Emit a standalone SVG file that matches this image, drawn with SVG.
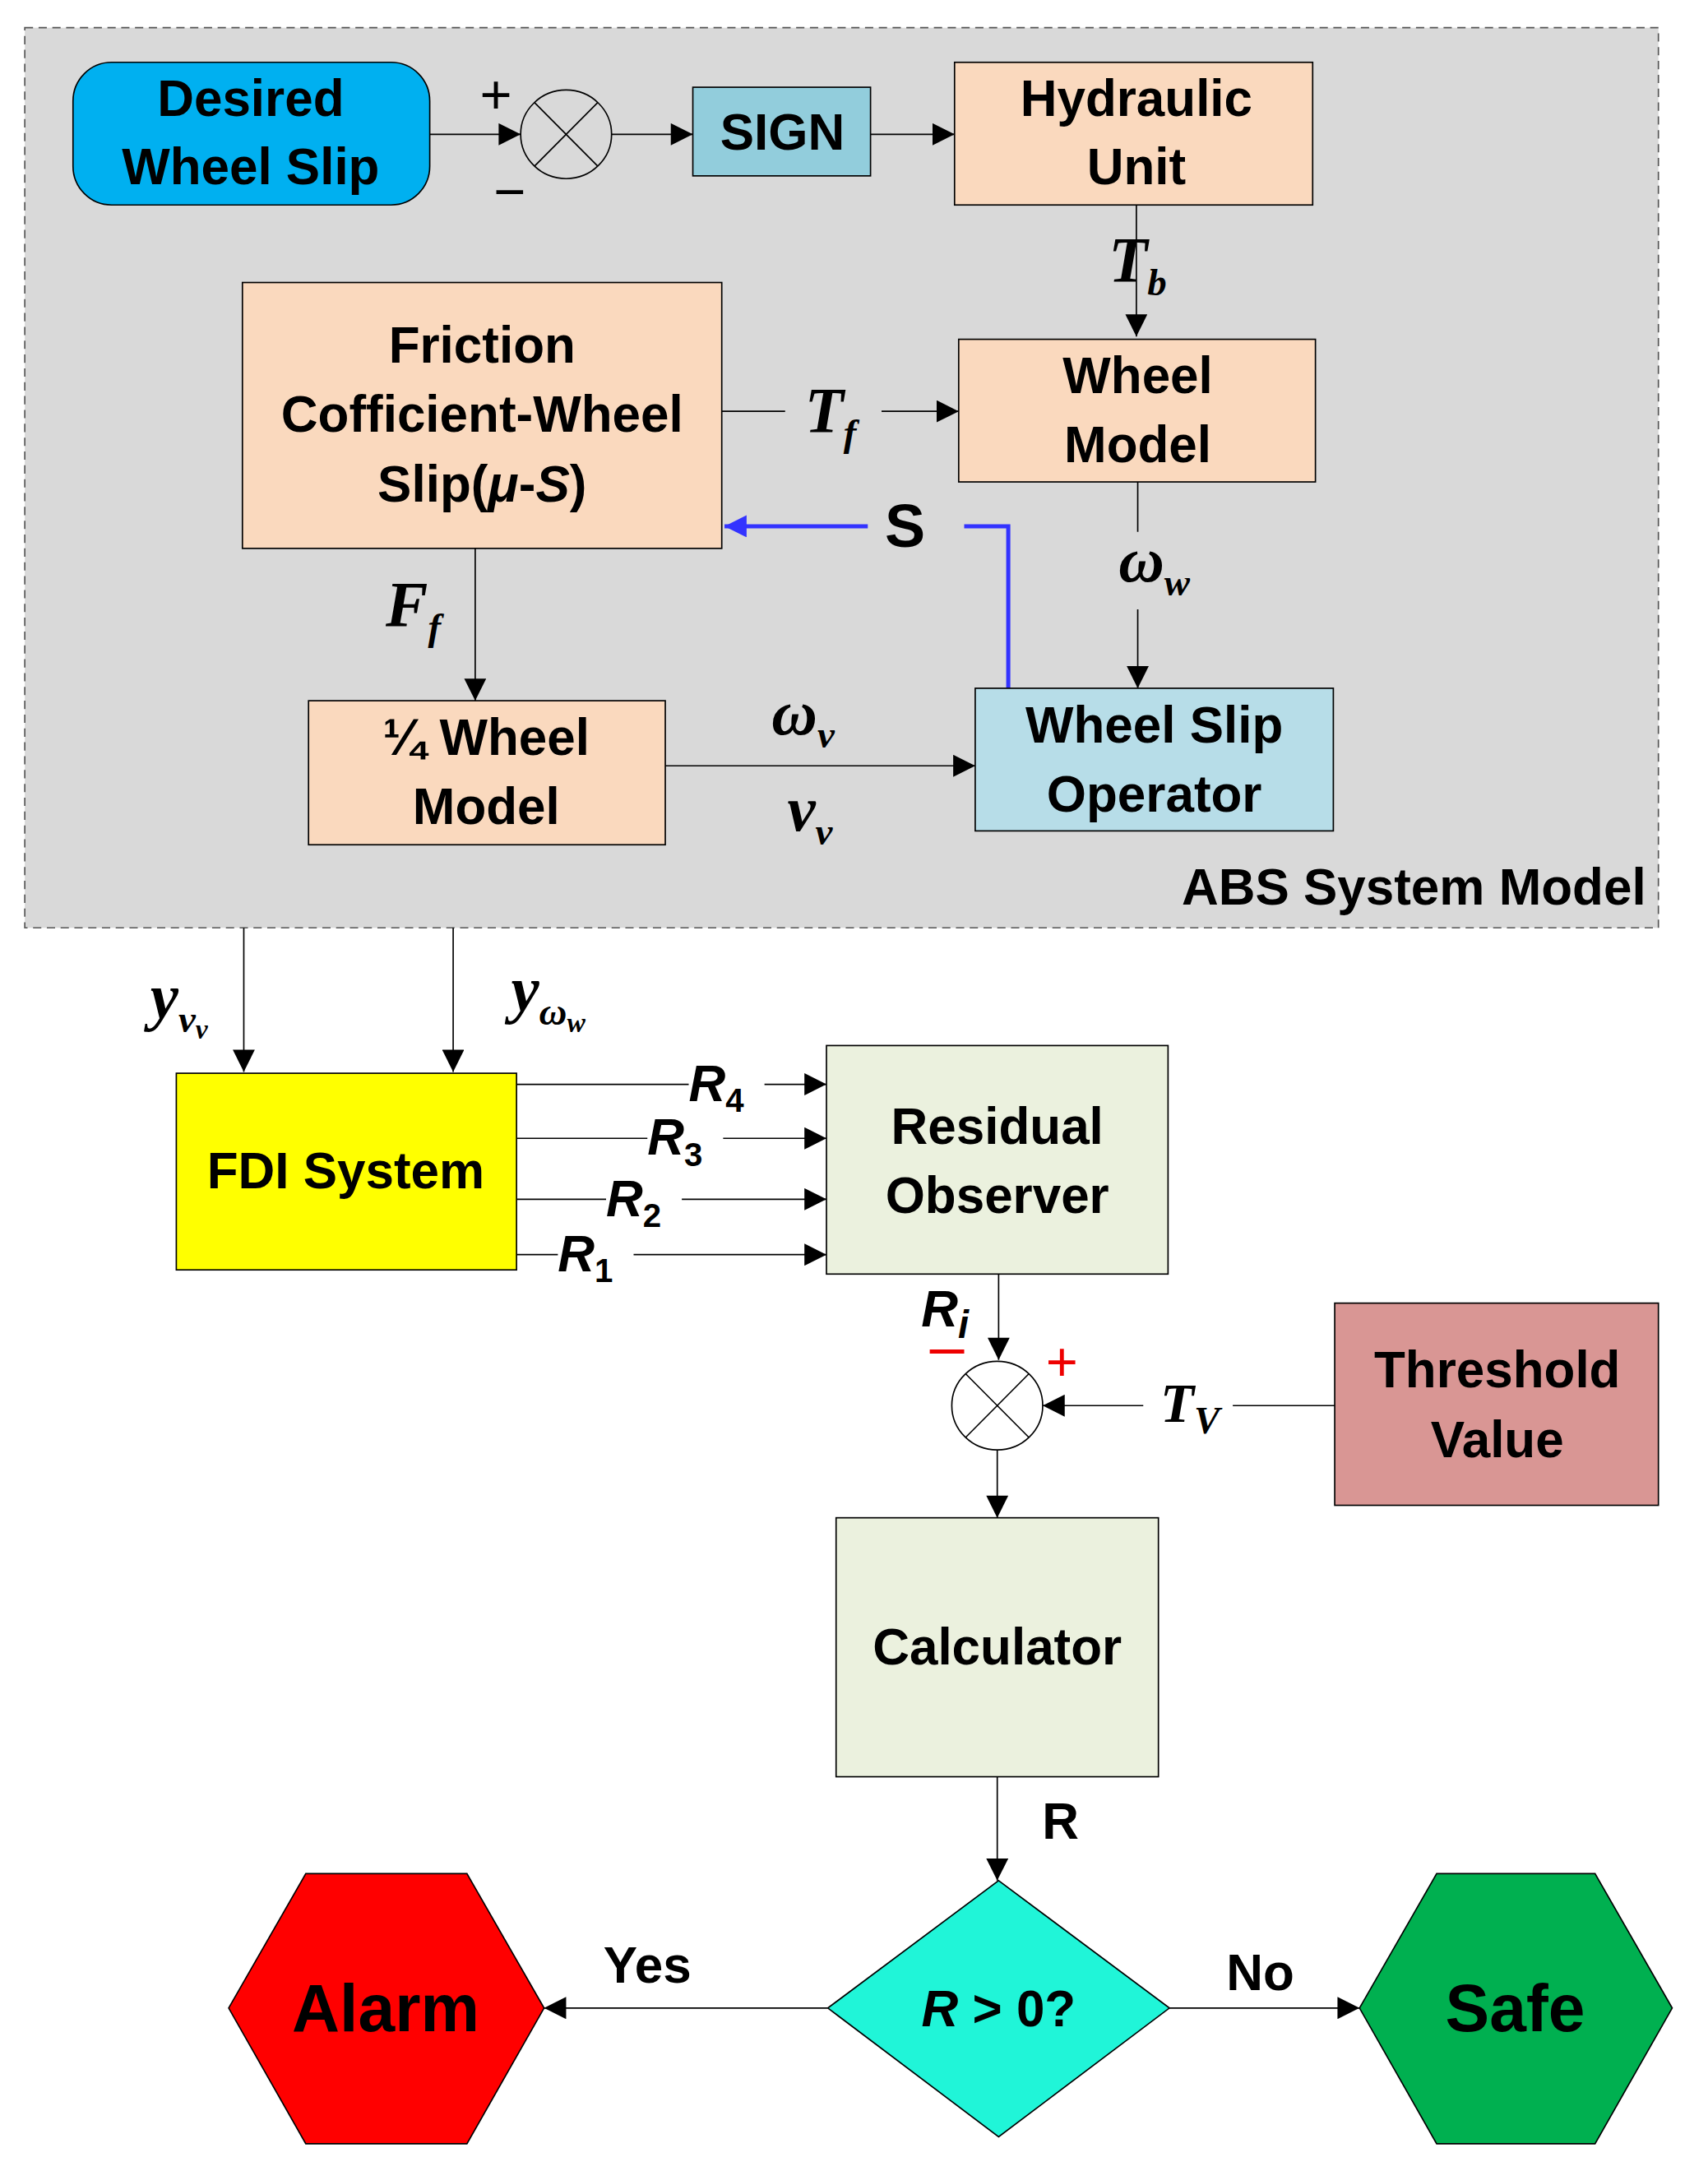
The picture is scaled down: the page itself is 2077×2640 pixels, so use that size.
<svg xmlns="http://www.w3.org/2000/svg" width="2077" height="2640" viewBox="0 0 2077 2640">
<style>
.b{stroke:#000;stroke-width:1}
.t{font-family:"Liberation Sans",Arial,sans-serif;font-weight:bold;font-size:37px;text-anchor:middle;fill:#000}
.m{font-family:"Liberation Serif","Times New Roman",serif;font-weight:bold;font-style:italic;font-size:46px;text-anchor:middle;fill:#000}
.s{font-size:28px}
.l{stroke:#000;stroke-width:1;fill:none}
</style>
<defs>
<marker id="a" viewBox="0 0 10 10" refX="10" refY="5" markerWidth="22" markerHeight="16" markerUnits="userSpaceOnUse" orient="auto"><path d="M0,0L10,5L0,10z" fill="#000"/></marker>
<marker id="ab" viewBox="0 0 10 10" refX="10" refY="5" markerWidth="22" markerHeight="16" markerUnits="userSpaceOnUse" orient="auto"><path d="M0,0L10,5L0,10z" fill="#3333ff"/></marker>
</defs>
<rect width="2077" height="2640" fill="#fff"/>
<g transform="scale(1.675,1.684)">
<rect x="18" y="20" width="1186" height="650" fill="#d9d9d9" stroke="#555" stroke-dasharray="6,4"/>
<text class="t" x="1195" y="653" text-anchor="end" style="text-anchor:end">ABS System Model</text>
<g id="connectors">
<path class="l" d="M312,97H378" marker-end="url(#a)"/>
<path class="l" d="M444,97H503" marker-end="url(#a)"/>
<path class="l" d="M632,97H693" marker-end="url(#a)"/>
<path class="l" d="M825,148V243" marker-end="url(#a)"/>
<path class="l" d="M524,297H570M640,297H696" marker-end="url(#a)"/>
<path d="M732,497V380H700M630,380H526" fill="none" stroke="#3333ff" stroke-width="3" marker-end="url(#ab)"/>
<path class="l" d="M826,348V384M826,440V497" marker-end="url(#a)"/>
<path class="l" d="M345,396V506" marker-end="url(#a)"/>
<path class="l" d="M483,553H708" marker-end="url(#a)"/>
<path class="l" d="M177,670V774" marker-end="url(#a)"/>
<path class="l" d="M329,670V774" marker-end="url(#a)"/>
<path class="l" d="M375,783H500M555,783H600" marker-end="url(#a)"/>
<path class="l" d="M375,822H470M525,822H600" marker-end="url(#a)"/>
<path class="l" d="M375,866H440M495,866H600" marker-end="url(#a)"/>
<path class="l" d="M375,906H405M460,906H600" marker-end="url(#a)"/>
<path class="l" d="M725,920V982" marker-end="url(#a)"/>
<path class="l" d="M969,1015H895M830,1015H757" marker-end="url(#a)"/>
<path class="l" d="M724,1047V1096" marker-end="url(#a)"/>
<path class="l" d="M724,1283V1358" marker-end="url(#a)"/>
<path class="l" d="M601,1450H395" marker-end="url(#a)"/>
<path class="l" d="M849,1450H987" marker-end="url(#a)"/>
</g>
<g id="labels">
<text x="360" y="82" style="font-family:'Liberation Sans',sans-serif;font-size:40px;text-anchor:middle">+</text>
<text x="370" y="152" style="font-family:'Liberation Sans',sans-serif;font-size:40px;text-anchor:middle">−</text>
<text class="m" x="826" y="203">T<tspan class="s" dy="10">b</tspan></text>
<text class="m" x="603" y="312">T<tspan class="s" dy="10">f</tspan></text>
<text class="t" x="657" y="395" style="font-size:44px">S</text>
<text class="m" x="838" y="420">ω<tspan class="s" dy="10">w</tspan></text>
<text class="m" x="300" y="452">F<tspan class="s" dy="10">f</tspan></text>
<text class="m" x="583" y="530">ω<tspan class="s" dy="10">v</tspan></text>
<text class="m" x="588" y="600">v<tspan class="s" dy="10">v</tspan></text>
<text class="m" x="130" y="735">y<tspan class="s" dy="10">v</tspan><tspan style="font-size:20px" dy="5">v</tspan></text>
<text class="m" x="398" y="730">y<tspan class="s" dy="10">ω</tspan><tspan style="font-size:20px" dy="5">w</tspan></text>
<text class="t" x="520" y="795" style="font-style:italic">R<tspan style="font-size:24px;font-style:normal" dy="8">4</tspan></text>
<text class="t" x="490" y="834" style="font-style:italic">R<tspan style="font-size:24px;font-style:normal" dy="8">3</tspan></text>
<text class="t" x="460" y="878" style="font-style:italic">R<tspan style="font-size:24px;font-style:normal" dy="8">2</tspan></text>
<text class="t" x="425" y="918" style="font-style:italic">R<tspan style="font-size:24px;font-style:normal" dy="8">1</tspan></text>
<text class="t" x="686" y="958" style="font-style:italic">R<tspan style="font-size:28px" dy="8">i</tspan></text>
<path d="M675,976H700" stroke="#e00" stroke-width="3"/>
<text x="771" y="997" style="font-family:'Liberation Sans',sans-serif;font-size:40px;text-anchor:middle;fill:#e00">+</text>
<text class="m" x="864" y="1027" style="font-size:40px">T<tspan class="s" dy="8">V</tspan></text>
<text class="t" x="770" y="1328">R</text>
<text class="t" x="470" y="1432">Yes</text>
<text class="t" x="915" y="1437">No</text>
</g>
<g id="desired"><rect x="53" y="45" width="259" height="103" rx="28" fill="#00b0f0" class="b"/><text class="t" x="182" y="84">Desired</text><text class="t" x="182" y="133">Wheel Slip</text></g>
<g id="sum1"><ellipse cx="411" cy="97" rx="33" ry="32" fill="none" class="b"/><path class="l" d="M388,74L434,120M434,74L388,120"/></g>
<g id="sign"><rect x="503" y="63" width="129" height="64" fill="#92cddc" class="b"/><text class="t" x="568" y="108">SIGN</text></g>
<g id="hydraulic"><rect x="693" y="45" width="260" height="103" fill="#fad9be" class="b"/><text class="t" x="825" y="84">Hydraulic</text><text class="t" x="825" y="133">Unit</text></g>
<g id="wheel"><rect x="696" y="245" width="259" height="103" fill="#fad9be" class="b"/><text class="t" x="826" y="284">Wheel</text><text class="t" x="826" y="334">Model</text></g>
<g id="friction"><rect x="176" y="204" width="348" height="192" fill="#fad9be" class="b"/><text class="t" x="350" y="262">Friction</text><text class="t" x="350" y="312">Cofficient-Wheel</text><text class="t" x="350" y="362">Slip(<tspan style="font-style:italic">μ</tspan>-<tspan style="font-style:italic">S</tspan>)</text></g>
<g id="quarter"><rect x="224" y="506" width="259" height="104" fill="#fad9be" class="b"/><text class="t" x="353" y="545">¼ Wheel</text><text class="t" x="353" y="595">Model</text></g>
<g id="slipop"><rect x="708" y="497" width="260" height="103" fill="#b7dde8" class="b"/><text class="t" x="838" y="536">Wheel Slip</text><text class="t" x="838" y="586">Operator</text></g>
<g id="fdi"><rect x="128" y="775" width="247" height="142" fill="#ffff00" class="b"/><text class="t" x="251" y="858">FDI System</text></g>
<g id="residual"><rect x="600" y="755" width="248" height="165" fill="#ebf1de" class="b"/><text class="t" x="724" y="826">Residual</text><text class="t" x="724" y="876">Observer</text></g>
<g id="sum2"><ellipse cx="724" cy="1015" rx="33" ry="32" fill="none" class="b"/><path class="l" d="M701,992L747,1038M747,992L701,1038"/></g>
<g id="threshold"><rect x="969" y="941" width="235" height="146" fill="#d99694" class="b"/><text class="t" x="1087" y="1002">Threshold</text><text class="t" x="1087" y="1052">Value</text></g>
<g id="calculator"><rect x="607" y="1096" width="234" height="187" fill="#ebf1de" class="b"/><text class="t" x="724" y="1202">Calculator</text></g>
<g id="decision"><polygon points="725,1358 849,1450 725,1543 601,1450" fill="#20f5d8" class="b"/><text class="t" x="725" y="1463"><tspan style="font-style:italic">R</tspan> &gt; 0?</text></g>
<g id="alarm"><polygon points="166,1450 222,1353 339,1353 395,1450 339,1548 222,1548" fill="#ff0000" class="b"/><text class="t" x="280" y="1467" style="font-size:48px">Alarm</text></g>
<g id="safe"><polygon points="987,1450 1043,1353 1158,1353 1214,1450 1158,1548 1043,1548" fill="#00b050" class="b"/><text class="t" x="1100" y="1467" style="font-size:48px">Safe</text></g>
</g>
</svg>
